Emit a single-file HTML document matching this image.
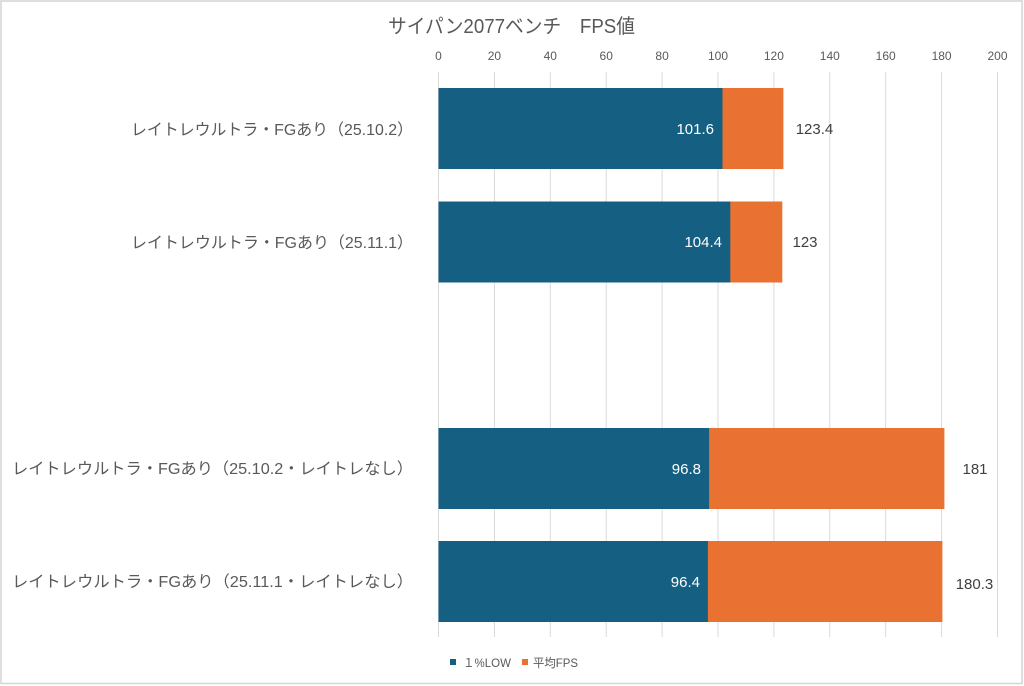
<!DOCTYPE html>
<html><head><meta charset="utf-8"><style>
html,body{margin:0;padding:0;background:#fff;}
svg{display:block;}
text{font-family:"Liberation Sans","Noto Sans CJK JP",sans-serif;}
</style></head><body>
<svg width="1024" height="686" viewBox="0 0 1024 686" xmlns="http://www.w3.org/2000/svg">
<rect x="0" y="0" width="1024" height="686" fill="#fff"/>
<rect x="1" y="1" width="1021" height="682.5" fill="none" stroke="#d4d4d4" stroke-width="1.5"/>
<text x="511.5" y="33" font-size="20" fill="#595959" text-anchor="middle" textLength="247" lengthAdjust="spacingAndGlyphs">サイパン2077ベンチ　FPS値</text>
<g stroke="#d9d9d9" stroke-width="1">
<line x1="438.5" y1="72" x2="438.5" y2="637"/>
<line x1="494.4" y1="72" x2="494.4" y2="637"/>
<line x1="550.3" y1="72" x2="550.3" y2="637"/>
<line x1="606.2" y1="72" x2="606.2" y2="637"/>
<line x1="662.1" y1="72" x2="662.1" y2="637"/>
<line x1="718" y1="72" x2="718" y2="637"/>
<line x1="773.9" y1="72" x2="773.9" y2="637"/>
<line x1="829.8" y1="72" x2="829.8" y2="637"/>
<line x1="885.7" y1="72" x2="885.7" y2="637"/>
<line x1="941.6" y1="72" x2="941.6" y2="637"/>
<line x1="997.5" y1="72" x2="997.5" y2="637"/>
</g>
<g font-size="12" fill="#595959" text-anchor="middle">
<text x="438.5" y="60">0</text>
<text x="494.4" y="60">20</text>
<text x="550.3" y="60">40</text>
<text x="606.2" y="60">60</text>
<text x="662.1" y="60">80</text>
<text x="718" y="60">100</text>
<text x="773.9" y="60">120</text>
<text x="829.8" y="60">140</text>
<text x="885.7" y="60">160</text>
<text x="941.6" y="60">180</text>
<text x="997.5" y="60">200</text>
</g>
<!-- bars -->
<rect x="438.5" y="88" width="344.9" height="81" fill="#E97132"/>
<rect x="438.5" y="88" width="284" height="81" fill="#156082"/>
<rect x="438.5" y="201.5" width="343.8" height="81" fill="#E97132"/>
<rect x="438.5" y="201.5" width="291.8" height="81" fill="#156082"/>
<rect x="438.5" y="428" width="505.9" height="81" fill="#E97132"/>
<rect x="438.5" y="428" width="270.6" height="81" fill="#156082"/>
<rect x="438.5" y="541" width="503.9" height="81" fill="#E97132"/>
<rect x="438.5" y="541" width="269.4" height="81" fill="#156082"/>
<!-- category labels -->
<g font-size="16" fill="#595959">
<text x="131" y="135" textLength="282" lengthAdjust="spacingAndGlyphs">レイトレウルトラ・FGあり（25.10.2）</text>
<text x="131" y="248" textLength="282" lengthAdjust="spacingAndGlyphs">レイトレウルトラ・FGあり（25.11.1）</text>
<text x="12" y="474" textLength="401" lengthAdjust="spacingAndGlyphs">レイトレウルトラ・FGあり（25.10.2・レイトレなし）</text>
<text x="12" y="587" textLength="401" lengthAdjust="spacingAndGlyphs">レイトレウルトラ・FGあり（25.11.1・レイトレなし）</text>
</g>
<!-- value labels -->
<g font-size="15" fill="#ffffff" text-anchor="end">
<text x="714" y="134">101.6</text>
<text x="722" y="247">104.4</text>
<text x="701" y="474">96.8</text>
<text x="700" y="587">96.4</text>
</g>
<g font-size="15" fill="#404040" text-anchor="middle">
<text x="814.5" y="134">123.4</text>
<text x="805" y="247">123</text>
<text x="975" y="474">181</text>
<text x="974.5" y="589">180.3</text>
</g>
<!-- legend -->
<rect x="450" y="659" width="6" height="6" fill="#156082"/>
<text x="463" y="667" font-size="12" fill="#595959" textLength="48" lengthAdjust="spacingAndGlyphs">１%LOW</text>
<rect x="522" y="659" width="6" height="6" fill="#E97132"/>
<text x="533" y="667" font-size="12" fill="#595959" textLength="45" lengthAdjust="spacingAndGlyphs">平均FPS</text>
</svg>
</body></html>
